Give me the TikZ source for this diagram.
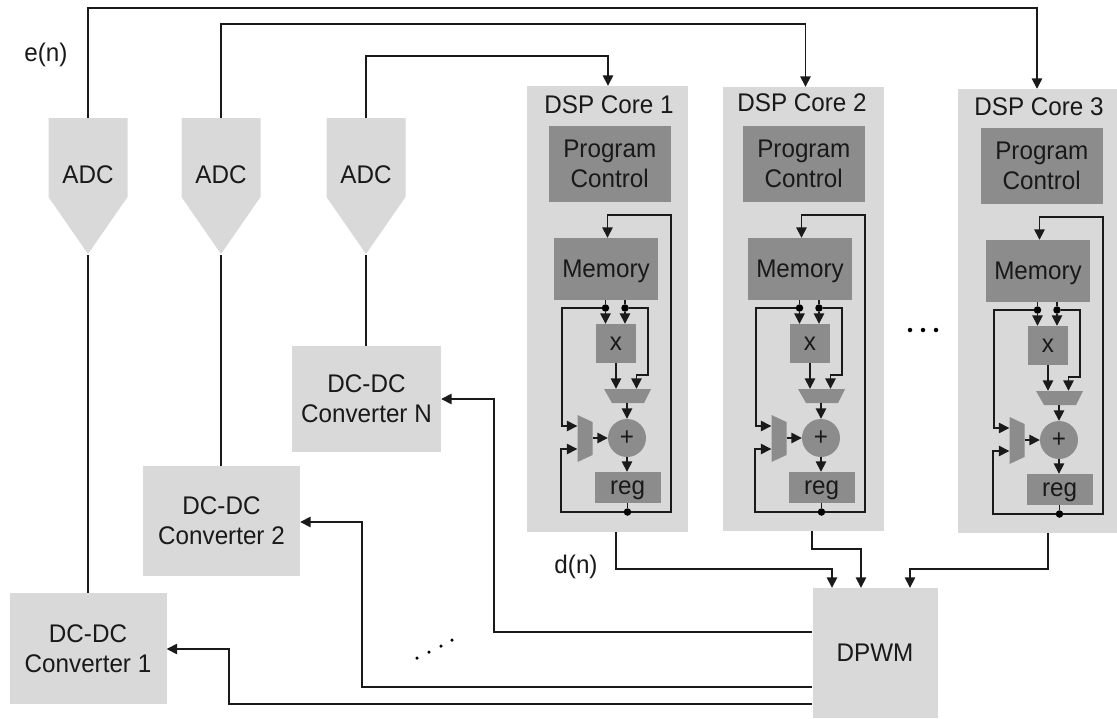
\documentclass[tikz,border=0pt]{standalone}
\usepackage{fontspec}
\setmainfont[FakeStretch=0.95]{Liberation Sans}
\usetikzlibrary{arrows.meta,calc}
\definecolor{lightbox}{HTML}{D9D9D9}
\definecolor{darkbox}{HTML}{8C8C8C}
\definecolor{wirecol}{HTML}{1A1A1A}
\tikzset{
  txt/.style={font=\fontsize{25.5}{30}\selectfont,text=black!90,align=center,inner sep=0pt},
  dbox/.style={txt,fill=darkbox,inner sep=0pt},
  ghost/.style={txt,inner sep=0pt},
  wire/.style={draw=wirecol,line width=1.5pt,line join=miter},
  awire/.style={wire,-{Triangle[length=10.5pt,width=10.5pt]}},
  junction/.style={circle,fill=black,inner sep=0pt,minimum size=7.5pt},
  ell/.style={circle,fill=black,inner sep=0pt,minimum size=4.5pt}
}
\newcommand{\adcblock}[2]{%
  \fill[lightbox] (#2-39.5,118) -- (#2+39.5,118) -- (#2+39.5,197) -- (#2,254) -- (#2-39.5,197) -- cycle;
  \node[ghost,minimum width=79pt,minimum height=136pt] (#1) at (#2,186) {\raisebox{23pt}{ADC}};
}
\newcommand{\coreblock}[8]{%
  % #1 core number, #2 dx, #3 dy, #4 panel left, #5 panel top, #6 panel bottom, #7 label x, #8 label y
  \node[fill=lightbox,inner sep=0pt,minimum width=161pt,minimum height=#6pt-#5pt] (c#1panel) at (#4+80.5,{(#5+#6)/2}) {};
  \node[txt] (c#1title) at (#7,#8) {DSP Core #1};
  \begin{scope}[shift={(#2,#3)}]
    \node[dbox,minimum width=122.5pt,minimum height=76pt] (c#1pc) at (609.75,164) {Program\\Control};
    \node[dbox,minimum width=104pt,minimum height=62pt,text depth=0pt] (c#1mem) at (606,269) {Memory};
    \node[dbox,minimum width=40pt,minimum height=39pt] (c#1x) at (616,343.5) {\raisebox{-1pt}{x}};
    \fill[darkbox] (604,389) -- (651,389) -- (644,403) -- (612,403) -- cycle;
    \node[ghost,minimum width=47pt,minimum height=14pt] (c#1mA) at (627.5,396) {};
    \fill[darkbox] (577.5,415) -- (592.5,422) -- (592.5,455) -- (577.5,462) -- cycle;
    \node[ghost,minimum width=15pt,minimum height=47pt] (c#1mB) at (585,438.5) {};
    \node[txt,circle,fill=darkbox,minimum size=38pt] (c#1add) at (627,438) {+};
    \node[dbox,minimum width=66pt,minimum height=31pt,text depth=0pt] (c#1reg) at (627.5,487.5) {reg};
    \node[junction] (c#1jb) at (627.5,512) {};
    \node[junction] (c#1jl) at (605.5,308) {};
    \node[junction] (c#1jr) at (625,308) {};
    \coordinate (c#1memin) at (607.5,215);
    \coordinate (c#1loopR) at (671,215);
    \coordinate (c#1loopB) at (671,512);
    \coordinate (c#1fbL) at (561,512);
    \coordinate (c#1fbU) at (561,449);
    \coordinate (c#1leftT) at (562,426);
    \coordinate (c#1leftC) at (562,308);
    \coordinate (c#1rgtT) at (648,308);
    \coordinate (c#1rgtB) at (648,375);
    \coordinate (c#1rgtA) at (636.5,375);
    \draw[awire] (c#1jb) -- (c#1loopB) -- (c#1loopR) -- (c#1memin) -- (c#1memin |- c#1mem.north);
    \draw[wire] (c#1reg.south) -- (c#1jb);
    \draw[awire] (c#1jb) -- (c#1fbL) -- (c#1fbU) -- (c#1fbU -| c#1mB.west);
    \draw[wire] (c#1jl |- c#1mem.south) -- (c#1jl);
    \draw[wire] (c#1jr |- c#1mem.south) -- (c#1jr);
    \draw[awire] (c#1jl) -- (c#1jl |- c#1x.north);
    \draw[awire] (c#1jr) -- (c#1jr |- c#1x.north);
    \draw[awire] (c#1jl) -- (c#1leftC) -- (c#1leftT) -- (c#1leftT -| c#1mB.west);
    \draw[awire] (c#1jr) -- (c#1rgtT) -- (c#1rgtB) -- (c#1rgtA) -- (c#1rgtA |- c#1mA.north);
    \draw[awire] (c#1x.south) -- (c#1x.south |- c#1mA.north);
    \draw[awire] (c#1add.north |- c#1mA.south) -- (c#1add.north);
    \draw[awire] (c#1mB.east |- c#1add.west) -- (c#1add.west);
    \draw[awire] (c#1add.south) -- (c#1add.south |- c#1reg.north);
  \end{scope}
}
\begin{document}
\begin{tikzpicture}[x=1pt,y=-1pt]
\useasboundingbox (0,0) rectangle (1117,718);
% ADCs
\adcblock{adcA}{88}
\adcblock{adcB}{221}
\adcblock{adcC}{366}
\node[txt] (en) at (46,55) {e(n)};
\node[txt] (dn) at (576,567) {d(n)};
% converters
\node[txt,fill=lightbox,minimum width=157pt,minimum height=111pt] (convA) at (88,648.5) {DC-DC\\Converter 1};
\node[txt,fill=lightbox,minimum width=157pt,minimum height=110pt] (convB) at (221.5,521) {DC-DC\\Converter 2};
\node[txt,fill=lightbox,minimum width=149pt,minimum height=106pt] (convN) at (366.5,399) {DC-DC\\Converter N};
\node[txt,fill=lightbox,minimum width=125pt,minimum height=130pt] (dpwm) at (875,653) {DPWM};
% cores
\coreblock{1}{0}{0}{527}{86}{532}{609}{105}
\coreblock{2}{194}{0}{723}{87}{531}{802}{103}
\coreblock{3}{432}{2}{957.5}{89}{533}{1039}{107}
% bends
\coordinate (t1a) at (88,8);    \coordinate (t1b) at (1037,8);
\coordinate (t2a) at (221,24);  \coordinate (t2b) at (805.5,24);
\coordinate (t3a) at (366,56);  \coordinate (t3b) at (608,56);
\draw[awire] (adcA.north) -- (t1a) -- (t1b) -- (t1b |- c3panel.north);
\draw[awire] (adcB.north) -- (t2a) -- (t2b) -- (t2b |- c2panel.north);
\draw[awire] (adcC.north) -- (t3a) -- (t3b) -- (t3b |- c1panel.north);
\draw[wire] ([yshift=-1pt]adcA.south) -- (adcA.south |- convA.north);
\draw[wire] ([yshift=-1pt]adcB.south) -- (adcB.south |- convB.north);
\draw[wire] ([yshift=-1pt]adcC.south) -- (adcC.south |- convN.north);
% core outputs
\coordinate (o1a) at (616,569); \coordinate (o1b) at (832,569);
\coordinate (o2a) at (812,549); \coordinate (o2b) at (861,549);
\coordinate (o3a) at (1048,569);\coordinate (o3b) at (910,569);
\draw[awire] (o1a |- c1panel.south) -- (o1a) -- (o1b) -- (o1b |- dpwm.north);
\draw[awire] (o2a |- c2panel.south) -- (o2a) -- (o2b) -- (o2b |- dpwm.north);
\draw[awire] (o3a |- c3panel.south) -- (o3a) -- (o3b) -- (o3b |- dpwm.north);
% dpwm outputs
\coordinate (rN) at (494,632); \coordinate (r2) at (362,687); \coordinate (r1) at (229,704);
\draw[awire] (rN -| dpwm.west) -- (rN) -- (494,399) -- (convN.east |- 0,399);
\draw[awire] (r2 -| dpwm.west) -- (r2) -- (362,522) -- (convB.east |- 0,522);
\draw[awire] (r1 -| dpwm.west) -- (r1) -- (229,649) -- (convA.east |- 0,649);
% ellipses
\node[ell,minimum size=3.5pt] (e1) at (417,658) {};
\node[ell,minimum size=3.5pt] (e2) at (429,652) {};
\node[ell,minimum size=3.5pt] (e3) at (441,646) {};
\node[ell,minimum size=3.5pt] (e4) at (452,640) {};
\node[ell] (f1) at (910,330) {};
\node[ell] (f2) at (923,330) {};
\node[ell] (f3) at (936,330) {};
\end{tikzpicture}
\end{document}
